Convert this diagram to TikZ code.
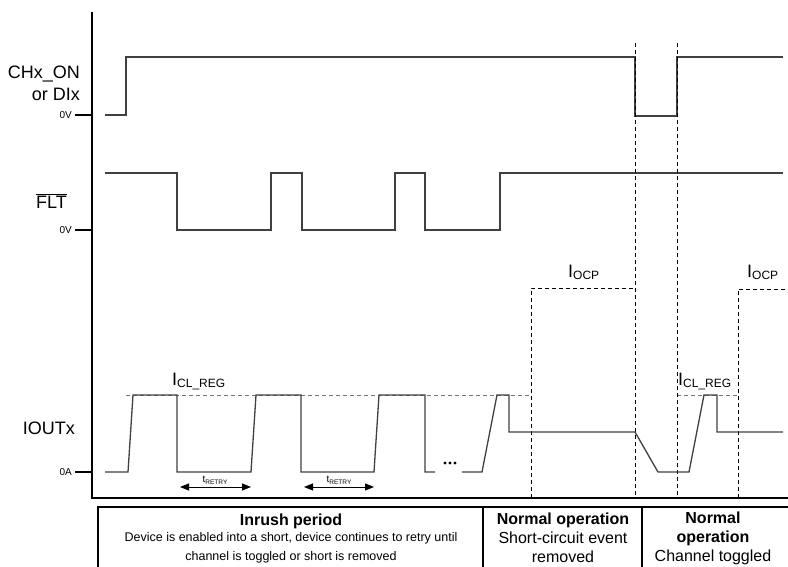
\documentclass[tikz,border=0pt]{standalone}
\usepackage{fontspec}
\setmainfont{Liberation Sans}
\usetikzlibrary{arrows.meta}
\begin{document}
\begin{tikzpicture}[x=1pt,y=-1pt,
  signal/.style={line width=1.3pt,black!75,line join=miter},
  axisline/.style={line width=1.5pt,black},
  guide/.style={dash pattern=on 4pt off 3pt,line width=0.8pt,black},
  level/.style={guide,black!55},
  siglabel/.style={font=\fontsize{18}{22}\selectfont,align=right,anchor=east,inner sep=0pt},
  ticklabel/.style={font=\fontsize{10}{12}\selectfont,anchor=east,inner sep=0pt},
  curlabel/.style={font=\fontsize{18}{20}\selectfont,anchor=base west,inner sep=0pt},
  retry/.style={{Triangle[length=9pt,width=7pt]}-{Triangle[length=9pt,width=7pt]},line width=1pt},
  phasehead/.style={font=\bfseries\fontsize{16}{18.5}\selectfont,align=center,inner sep=0pt},
  phasetext/.style={font=\fontsize{16}{18.5}\selectfont,align=center,inner sep=0pt}]
\useasboundingbox (0,0) rectangle (788,567);
\clip (0,0) rectangle (788,567);

% axes and ticks
\draw[axisline] (92,12) -- (92,498) -- (790,498);
\foreach \y in {115,230,472}
{
    \draw[axisline](75,\y)--(92,\y);
}
\node[ticklabel] (zeroon) at (72,115) {0V};
\node[ticklabel] (zeroflt) at (72,230) {0V};
\node[ticklabel] (zeroout) at (72,472) {0A};

% signal names
\node[siglabel] (chon) at (80,83) {CHx\_ON\\or DIx};
\node[siglabel] (flt) at (67,201) {$\overline{\mbox{FLT}}$};
\node[siglabel] (iout) at (75,428) {IOUTx};

% CHx_ON
\draw[signal] (105,115) -- (126,115) -- (126,57) -- (635,57) -- (635,116) -- (677,116) -- (677,57) -- (783,57);

% FLT
\draw[signal] (105,173) -- (177,173) -- (177,230) -- (271,230) -- (271,173) -- (302,173) -- (302,230)
  -- (395,230) -- (395,173) -- (425,173) -- (425,230) -- (500,230) -- (500,173) -- (783,173);

% guide lines
\draw[level] (126,395) -- (531,395);
\draw[level] (677,395) -- (738,395);
\draw[guide] (531,498) -- (531,288) -- (635,288);
\draw[guide] (635,43) -- (635,498);
\draw[guide] (677,43) -- (677,498);
\draw[guide] (738,498) -- (738,289) -- (790,289);

% IOUTx
\draw[signal] (105,472) -- (128,472) -- (133,395) -- (177,395) -- (177,472) -- (251,472) -- (256,395)
  -- (301,395) -- (301,472) -- (374,472) -- (379,395) -- (425,395) -- (425,472) -- (435,472);
\draw[signal] (462,472) -- (482,472) -- (497,395) -- (509,395) -- (509,432) -- (635,432) -- (658,472)
  -- (689,472) -- (704,395) -- (717,395) -- (717,432) -- (783,432);
\foreach \x in {445,450,455}
{
    \fill (\x,463) circle (1.7pt);
}

% current levels
\node[curlabel] (iclreg) at (172,385) {I\raisebox{-0.3ex}{\fontsize{12}{12}\selectfont CL\_REG}};
\node[curlabel] (iclregb) at (678,385) {I\raisebox{-0.3ex}{\fontsize{12}{12}\selectfont CL\_REG}};
\node[curlabel] (iocp) at (568,277) {I\raisebox{-0.3ex}{\fontsize{12}{12}\selectfont OCP}};
\node[curlabel] (iocpb) at (747,277) {I\raisebox{-0.3ex}{\fontsize{12}{12}\selectfont OCP}};

% retry time
\coordinate (ra) at (180,487);
\coordinate (rb) at (251,487);
\coordinate (rc) at (304,487);
\coordinate (rd) at (374,487);
\draw[retry] (ra) -- (rb);
\draw[retry] (rc) -- (rd);
\node[font=\fontsize{10}{10}\selectfont,inner sep=0pt] (tra) at (215,480) {t\raisebox{-0.3ex}{\fontsize{6.5}{7}\selectfont RETRY}};
\node[font=\fontsize{10}{10}\selectfont,inner sep=0pt] (trb) at (339,480) {t\raisebox{-0.3ex}{\fontsize{6.5}{7}\selectfont RETRY}};

% phase table
\draw[axisline] (98,575) -- (98,507) -- (795,507);
\draw[axisline] (483,507) -- (483,575);
\draw[axisline] (642,507) -- (642,575);
\node[phasehead] (inrush) at (291,521) {Inrush period};
\node[phasetext,font=\fontsize{12.5}{19}\selectfont] (inrushtxt) at (291,547.5) {Device is enabled into a short, device continues to retry until\\channel is toggled or short is removed};
\node[phasehead] (normala) at (563,520) {Normal operation};
\node[phasetext] (normalatxt) at (563,547.5) {Short-circuit event\\removed};
\node[phasehead] (normalb) at (713,529) {Normal\\operation};
\node[phasetext] (normalbtxt) at (713,557) {Channel toggled};
\end{tikzpicture}
\end{document}
